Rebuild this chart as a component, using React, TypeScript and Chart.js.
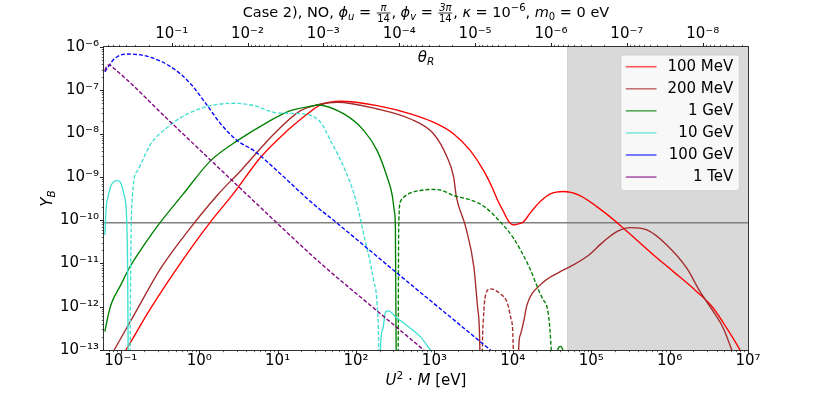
import React, { useEffect, useRef } from "react";
import { Chart, registerables } from "chart.js";

Chart.register(...registerables);

const FAMILY = "'DejaVu Sans', sans-serif";

// ---- axis ranges & ticks ----
const X_MIN = 0.061;
const X_MAX = 1e7;
const Y_MIN = 1e-13;
const Y_MAX = 1e-6;
const THETA_MIN = 2.53e-9;
const THETA_MAX = 0.779;

const X_TICKS = [1e-1, 1e0, 1e1, 1e2, 1e3, 1e4, 1e5, 1e6, 1e7];
const X_TICK_LABELS = ["10⁻¹", "10⁰", "10¹", "10²", "10³", "10⁴", "10⁵", "10⁶", "10⁷"];
const Y_TICKS = [1e-13, 1e-12, 1e-11, 1e-10, 1e-9, 1e-8, 1e-7, 1e-6];
const Y_TICK_LABELS = ["10⁻¹³", "10⁻¹²", "10⁻¹¹", "10⁻¹⁰", "10⁻⁹", "10⁻⁸", "10⁻⁷", "10⁻⁶"];
const THETA_TICKS = [1e-1, 1e-2, 1e-3, 1e-4, 1e-5, 1e-6, 1e-7, 1e-8];
const THETA_TICK_LABELS = ["10⁻¹", "10⁻²", "10⁻³", "10⁻⁴", "10⁻⁵", "10⁻⁶", "10⁻⁷", "10⁻⁸"];

const OBSERVED_YB = 8.7e-11;
const SHADE_FROM = 5e4;

const MASS_LABELS = ["100 MeV", "200 MeV", "1 GeV", "10 GeV", "100 GeV", "1 TeV"];
const MASS_COLORS = ["#ff0000", "#a52a2a", "#008000", "#40e0d0", "#0000ff", "#800080"];

// ---- data (x = U^2 M [eV], y = |Y_B|) ----
// 100 MeV, positive
const M100_X = [0.09, 0.116, 0.241, 0.64, 1.4, 2.65, 6.07, 13.3, 23.9, 35.3, 63.5, 186, 494, 1082, 1762, 2874, 4245, 5690, 6290, 7640, 8770, 10230, 11750, 13740, 16710, 22400, 30060, 44360, 68870, 143500, 257800, 622200, 1.117e6, 2.22e6, 3.614e6, 5.354e6, 7.906e6, 1e7];
const M100_Y = [4.8e-14, 1e-13, 9.23e-13, 1.32e-11, 9.23e-11, 3.82e-10, 2.84e-9, 1.17e-8, 2.84e-8, 4.58e-8, 5.57e-8, 4.41e-8, 2.84e-8, 1.67e-8, 9.79e-9, 4.03e-9, 1.39e-9, 4.8e-10, 3.09e-10, 1.55e-10, 9.6e-11, 7.74e-11, 8.17e-11, 9.23e-11, 1.47e-10, 2.68e-10, 4.03e-10, 4.6e-10, 3.82e-10, 1.57e-10, 6.5e-11, 1.57e-11, 6.47e-12, 2.23e-12, 9.23e-13, 3.19e-13, 1e-13, 4.5e-14];

// 200 MeV
const M200_POS1_X = [0.0625, 0.0822, 0.1477, 0.3236, 0.708, 1.71, 3.38, 8.98, 19.6, 35.3, 57.6, 186, 494, 980, 1452, 1762, 1906, 2483, 3186, 3582, 3800, 3860];
const M200_POS1_Y = [4.3e-14, 1e-13, 6.47e-13, 7.75e-12, 5.43e-11, 3.82e-10, 1.39e-9, 9.79e-9, 3.38e-8, 4.83e-8, 5.28e-8, 3.7e-8, 2.17e-8, 9.79e-9, 2.84e-9, 9.79e-10, 3.44e-10, 7.34e-11, 8.3e-12, 8.43e-13, 1e-13, 1e-15];
const M200_NEG_X = [4000, 4086, 4210, 4467, 5167, 6930, 8510, 9570, 10140, 10270];
const M200_NEG_Y = [1e-15, 1e-13, 4.95e-13, 1.77e-12, 2.58e-12, 1.98e-12, 1.22e-12, 4.95e-13, 1e-13, 1e-15];
const M200_POS2_X = [11580, 11860, 12470, 13740, 15170, 22400, 40270, 54000, 88160, 143500, 212500, 313800, 512600, 920700, 1.655e6, 2.447e6, 3.614e6, 4.845e6, 6.199e6, 8e6];
const M200_POS2_Y = [1e-15, 1e-13, 2.23e-13, 4.53e-13, 1.1e-12, 3.19e-12, 6.47e-12, 8.44e-12, 1.44e-11, 3.19e-11, 5.43e-11, 6.71e-11, 5.94e-11, 2.67e-11, 7.75e-12, 2.23e-12, 7.7e-13, 3.19e-13, 1e-13, 2.5e-14];

// 1 GeV
const G1_POS1_X = [0.0625, 0.0677, 0.0746, 0.1, 0.1276, 0.198, 0.3236, 0.611, 1.4, 3.07, 7.39, 14.6, 29.0, 32.0, 70.0, 126, 186, 250, 289, 309, 318, 325, 328];
const G1_POS1_Y = [2.66e-13, 5.42e-13, 1.1e-12, 3.19e-12, 7.75e-12, 2.67e-11, 9.23e-11, 3.82e-10, 2.37e-9, 6.86e-9, 1.82e-8, 3.38e-8, 4.41e-8, 4.58e-8, 2.84e-8, 1.17e-8, 4.03e-9, 9.79e-10, 3.82e-10, 1.57e-10, 6.61e-11, 1e-13, 1e-15];
const G1_NEG_X = [338, 345, 350, 369, 406, 494, 664, 889, 1192, 1746, 2874, 4210, 6930, 10140, 15740, 24490, 30900, 31800];
const G1_NEG_Y = [1e-15, 1e-13, 6.6e-11, 2.68e-10, 3.38e-10, 4.25e-10, 4.85e-10, 5.12e-10, 4.97e-10, 3.72e-10, 2.93e-10, 2.13e-10, 9.08e-11, 3.88e-11, 9.23e-12, 1.44e-12, 1e-13, 1e-15];
const G1_POS2_X = [36400, 37400, 40270, 43350, 44650];
const G1_POS2_Y = [1e-15, 1e-13, 1.21e-13, 1e-13, 1e-15];

// 10 GeV
const G10_POS1_X = [0.0625, 0.0654, 0.0677, 0.0746, 0.0822, 0.0908, 0.1, 0.11, 0.116, 0.119, 0.1217, 0.124, 0.1247];
const G10_POS1_Y = [4.55e-11, 2.24e-10, 3.09e-10, 6.17e-10, 7.83e-10, 8.17e-10, 7.22e-10, 3.82e-10, 2.24e-10, 9.23e-11, 1.2e-11, 1e-13, 1e-15];
const G10_NEG_X = [0.1305, 0.1314, 0.141, 0.163, 0.241, 0.394, 0.708, 1.4, 2.77, 4.99, 8.98, 13.3, 21.6, 35.3, 47.3, 70.0, 98.6, 126, 169, 186, 195, 199];
const G10_NEG_Y = [1e-15, 1e-13, 3.82e-10, 1.39e-9, 5.75e-9, 1.4e-8, 2.84e-8, 4.41e-8, 5.01e-8, 4.41e-8, 3.1e-8, 2.94e-8, 2.84e-8, 1.82e-8, 6.86e-9, 1.67e-9, 3.09e-10, 4.55e-11, 3.8e-12, 1.1e-12, 1e-13, 1e-15];
const G10_POS2_X = [203.4, 205, 218, 238, 256, 335, 494, 664, 889, 1500];
const G10_POS2_Y = [1e-15, 1e-13, 2.91e-13, 7.59e-13, 8.0e-13, 5.42e-13, 3.19e-13, 2.01e-13, 1e-13, 3e-14];

// 100 GeV (negative)
const G100_NEG_X = [0.0625, 0.0822, 0.1217, 0.241, 0.478, 0.78, 1.27, 1.88, 3.07, 4.99, 10.9, 26.3, 57.6, 335, 5167, 15000];
const G100_NEG_Y = [2.65e-7, 5.28e-7, 6.89e-7, 5.78e-7, 3.1e-7, 1.4e-7, 4.41e-8, 1.67e-8, 6.86e-9, 4.03e-9, 1.17e-9, 2.68e-10, 8.47e-11, 5.94e-12, 1e-13, 2e-14];

// 1 TeV (negative)
const T1_NEG_X = [0.0625, 0.0664, 0.071, 0.0791, 0.456, 4.11, 35.3, 169, 731, 3340];
const T1_NEG_Y = [2.84e-7, 3.64e-7, 3.84e-7, 3.36e-7, 1.67e-8, 3.82e-10, 1.01e-11, 9.23e-13, 1e-13, 1e-14];

// ---- helpers ----
function pts(xs: number[], ys: number[]) {
  return xs.map((x, i) => ({ x, y: ys[i] }));
}

function logTicks(min: number, max: number): number[] {
  const out: number[] = [];
  for (let e = Math.floor(Math.log10(min)); e <= Math.ceil(Math.log10(max)); e++) {
    for (let m = 1; m <= 9; m++) {
      const v = m * Math.pow(10, e);
      if (v >= min * 0.999999 && v <= max * 1.000001) out.push(v);
    }
  }
  return out;
}

function labelFor(v: number, values: number[], labels: string[]) {
  const lv = Math.log10(v);
  for (let i = 0; i < values.length; i++) {
    if (Math.abs(lv - Math.log10(values[i])) < 1e-6) return labels[i];
  }
  return "";
}

type Run = { t?: string; it?: boolean; s?: number; dy?: number; num?: string; den?: string };

function fontOf(r: Run, base: number) {
  return `${r.it ? "italic " : ""}${r.s ?? base}px ${FAMILY}`;
}

function runWidth(ctx: CanvasRenderingContext2D, r: Run, base: number) {
  if (r.num !== undefined) {
    ctx.font = `italic 10px ${FAMILY}`;
    const a = ctx.measureText(r.num).width;
    ctx.font = `10px ${FAMILY}`;
    const b = ctx.measureText(r.den || "").width;
    return Math.max(a, b) + 3;
  }
  ctx.font = fontOf(r, base);
  return ctx.measureText(r.t || "").width;
}

function drawRuns(ctx: CanvasRenderingContext2D, runs: Run[], cx: number, baseline: number, base: number) {
  let total = 0;
  for (const r of runs) total += runWidth(ctx, r, base);
  let x = cx - total / 2;
  ctx.textAlign = "left";
  ctx.textBaseline = "alphabetic";
  ctx.fillStyle = "#000";
  for (const r of runs) {
    const w = runWidth(ctx, r, base);
    if (r.num !== undefined) {
      const bar = baseline - 4;
      ctx.font = `italic 10px ${FAMILY}`;
      const nw = ctx.measureText(r.num).width;
      ctx.fillText(r.num, x + (w - nw) / 2, bar - 2);
      ctx.font = `10px ${FAMILY}`;
      const dw = ctx.measureText(r.den || "").width;
      ctx.fillText(r.den || "", x + (w - dw) / 2, bar + 9);
      ctx.fillRect(x + 1, bar - 0.4, w - 2, 0.8);
    } else {
      ctx.font = fontOf(r, base);
      ctx.fillText(r.t || "", x, baseline + (r.dy || 0));
    }
    x += w;
  }
}

const TITLE_RUNS: Run[] = [
  { t: "Case 2), NO, " },
  { t: "ϕ", it: true },
  { t: "u", it: true, s: 10, dy: 3 },
  { t: " = " },
  { num: "π", den: "14" },
  { t: ", " },
  { t: "ϕ", it: true },
  { t: "v", it: true, s: 10, dy: 3 },
  { t: " = " },
  { num: "3π", den: "14" },
  { t: ", " },
  { t: "κ", it: true },
  { t: " = 10" },
  { t: "−6", s: 10, dy: -6 },
  { t: ", " },
  { t: "m", it: true },
  { t: "0", s: 10, dy: 3 },
  { t: " = 0 eV" },
];
const THETA_RUNS: Run[] = [{ t: "θ", it: true }, { t: "R", it: true, s: 10.5, dy: 3 }];
const XLABEL_RUNS: Run[] = [
  { t: "U", it: true },
  { t: "2", s: 10.5, dy: -6 },
  { t: " · " },
  { t: "M", it: true },
  { t: " [eV]" },
];
const YLABEL_RUNS: Run[] = [{ t: "Y", it: true }, { t: "B", it: true, s: 10.5, dy: 3 }];

function drawTickMarks(ctx: CanvasRenderingContext2D, scale: any, side: "bottom" | "top" | "left") {
  ctx.strokeStyle = "#222";
  for (const t of scale.ticks) {
    const lv = Math.log10(t.value);
    const major = Math.abs(lv - Math.round(lv)) < 1e-6;
    const len = major ? 4 : 2.2;
    ctx.lineWidth = major ? 1 : 0.7;
    const p = Math.round(scale.getPixelForValue(t.value)) + 0.5;
    ctx.beginPath();
    if (side === "bottom") {
      ctx.moveTo(p, scale.top);
      ctx.lineTo(p, scale.top + len);
    } else if (side === "top") {
      ctx.moveTo(p, scale.bottom);
      ctx.lineTo(p, scale.bottom - len);
    } else {
      ctx.moveTo(scale.right, p);
      ctx.lineTo(scale.right - len, p);
    }
    ctx.stroke();
  }
}

const decorPlugin = {
  id: "decor",
  beforeDatasetsDraw(chart: any) {
    const { ctx, chartArea: a, scales } = chart;
    const x0 = scales.x.getPixelForValue(SHADE_FROM);
    ctx.save();
    ctx.fillStyle = "#d9d9d9";
    ctx.fillRect(x0, a.top, a.right - x0, a.bottom - a.top);
    ctx.fillStyle = "#cdcdcd";
    ctx.fillRect(x0 - 0.5, a.top, 1, a.bottom - a.top);
    ctx.restore();
  },
  afterDatasetsDraw(chart: any) {
    const { ctx, chartArea: a, scales } = chart;
    ctx.save();
    // frame
    ctx.strokeStyle = "#333";
    ctx.lineWidth = 1;
    ctx.strokeRect(Math.round(a.left) - 0.5, Math.round(a.top) - 0.5, Math.round(a.right - a.left) + 1, Math.round(a.bottom - a.top) + 1);
    drawTickMarks(ctx, scales.x, "bottom");
    drawTickMarks(ctx, scales.x2, "top");
    drawTickMarks(ctx, scales.y, "left");

    // legend
    const rowH = 22.07;
    const bw = 118.5;
    const bh = 135.7;
    const bx = a.right - 8.7 - bw;
    const by = a.top + 8;
    ctx.beginPath();
    (ctx as any).roundRect(bx, by, bw, bh, 3);
    ctx.fillStyle = "rgba(255,255,255,0.8)";
    ctx.fill();
    ctx.strokeStyle = "rgba(204,204,204,0.8)";
    ctx.lineWidth = 1;
    ctx.stroke();
    ctx.font = `15px ${FAMILY}`;
    ctx.textAlign = "right";
    ctx.textBaseline = "middle";
    MASS_LABELS.forEach((lab, i) => {
      const cy = by + 11.7 + i * rowH;
      ctx.globalAlpha = 0.65;
      ctx.strokeStyle = MASS_COLORS[i];
      ctx.lineWidth = 1.6;
      ctx.beginPath();
      ctx.moveTo(bx + 5, cy);
      ctx.lineTo(bx + 35.7, cy);
      ctx.stroke();
      ctx.globalAlpha = 1;
      ctx.fillStyle = "#000";
      ctx.fillText(lab, bx + bw - 6, cy + 0.5);
    });

    // texts
    const cx = (a.left + a.right) / 2;
    drawRuns(ctx, TITLE_RUNS, cx, 17, 14.5);
    drawRuns(ctx, THETA_RUNS, cx, a.top + 15, 15);
    drawRuns(ctx, XLABEL_RUNS, cx, 384.5, 15);
    ctx.save();
    ctx.translate(51.5, (a.top + a.bottom) / 2);
    ctx.rotate(-Math.PI / 2);
    drawRuns(ctx, YLABEL_RUNS, 0, 0, 15);
    ctx.restore();
    ctx.restore();
  },
};

function line(xs: number[], ys: number[], color: string, dashed: boolean) {
  return {
    data: pts(xs, ys),
    borderColor: color,
    borderWidth: 1.35,
    borderDash: dashed ? [4, 2] : [],
    pointRadius: 0,
    fill: false,
    cubicInterpolationMode: "monotone" as const,
    xAxisID: "x",
    yAxisID: "y",
  };
}

export default function App() {
  const ref = useRef<HTMLCanvasElement | null>(null);

  useEffect(() => {
    if (!ref.current) return;
    const [cR, cBr, cG, cT, cB, cP] = MASS_COLORS;
    const tickFont = { family: FAMILY, size: 15 };
    const datasets: any[] = [
      line(T1_NEG_X, T1_NEG_Y, cP, true),
      line(G100_NEG_X, G100_NEG_Y, cB, true),
      line(G10_POS2_X, G10_POS2_Y, cT, false),
      line(G10_NEG_X, G10_NEG_Y, cT, true),
      line(G10_POS1_X, G10_POS1_Y, cT, false),
      line(G1_POS2_X, G1_POS2_Y, cG, false),
      line(G1_NEG_X, G1_NEG_Y, cG, true),
      line(G1_POS1_X, G1_POS1_Y, cG, false),
      line(M200_POS2_X, M200_POS2_Y, cBr, false),
      line(M200_NEG_X, M200_NEG_Y, cBr, true),
      line(M200_POS1_X, M200_POS1_Y, cBr, false),
      line(M100_X, M100_Y, cR, false),
      {
        data: pts([X_MIN, X_MAX], [OBSERVED_YB, OBSERVED_YB]),
        borderColor: "#808080",
        borderWidth: 1.5,
        pointRadius: 0,
        fill: false,
        xAxisID: "x",
        yAxisID: "y",
      },
    ];

    const chart = new Chart(ref.current, {
      type: "line",
      data: { datasets },
      options: {
        animation: false,
        responsive: false,
        events: [],
        layout: { padding: { left: 0, top: 0, right: 83, bottom: 0 } },
        plugins: { legend: { display: false }, tooltip: { enabled: false }, title: { display: false } },
        scales: {
          x: {
            type: "logarithmic",
            position: "bottom",
            min: X_MIN,
            max: X_MAX,
            grid: { display: false, drawTicks: false },
            border: { display: false },
            afterBuildTicks: (s: any) => {
              s.ticks = logTicks(X_MIN, X_MAX).map((v) => ({ value: v }));
            },
            afterFit: (s: any) => {
              s.height = 44;
            },
            ticks: {
              autoSkip: false,
              maxRotation: 0,
              minRotation: 0,
              padding: 2,
              color: "#000",
              font: tickFont,
              callback: (v: any) => labelFor(Number(v), X_TICKS, X_TICK_LABELS),
            },
          },
          x2: {
            type: "logarithmic",
            position: "top",
            reverse: true,
            display: true,
            min: THETA_MIN,
            max: THETA_MAX,
            grid: { display: false, drawTicks: false },
            border: { display: false },
            afterBuildTicks: (s: any) => {
              s.ticks = logTicks(THETA_MIN, THETA_MAX).reverse().map((v) => ({ value: v }));
            },
            afterFit: (s: any) => {
              s.height = 47;
            },
            ticks: {
              autoSkip: false,
              maxRotation: 0,
              minRotation: 0,
              padding: 4,
              color: "#000",
              font: tickFont,
              callback: (v: any) => labelFor(Number(v), THETA_TICKS, THETA_TICK_LABELS),
            },
          },
          y: {
            type: "logarithmic",
            position: "left",
            min: Y_MIN,
            max: Y_MAX,
            grid: { display: false, drawTicks: false },
            border: { display: false },
            afterBuildTicks: (s: any) => {
              s.ticks = logTicks(Y_MIN, Y_MAX).map((v) => ({ value: v }));
            },
            afterFit: (s: any) => {
              s.width = 104;
            },
            ticks: {
              autoSkip: false,
              padding: 5,
              color: "#000",
              font: tickFont,
              callback: (v: any) => labelFor(Number(v), Y_TICKS, Y_TICK_LABELS),
            },
          },
        },
      },
      plugins: [decorPlugin],
    } as any);

    return () => chart.destroy();
  }, []);

  return (
    <div style={{ position: "absolute", left: 0, top: 0, width: 831, height: 394, background: "#fff" }}>
      <canvas ref={ref} width={831} height={394} style={{ width: 831, height: 394, display: "block" }} />
    </div>
  );
}
